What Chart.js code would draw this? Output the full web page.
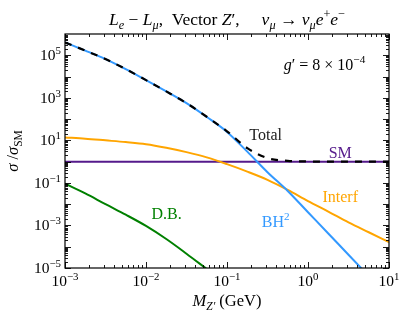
<!DOCTYPE html>
<html>
<head>
<meta charset="utf-8">
<script src="https://cdn.jsdelivr.net/npm/chart.js@4/dist/chart.umd.min.js"></script>
<style>
  html, body { margin: 0; padding: 0; background: #fff; }
  #wrap { width: 406px; height: 316px; }
</style>
</head>
<body>
<div id="wrap"><canvas id="myChart" width="406" height="316"></canvas></div>
<script>
// Z' mass in GeV (quarter-decade steps from 1e-3 to 10)
const massGeV = [
  1e-3, 1.78e-3, 3.16e-3, 5.62e-3, 1e-2, 1.78e-2, 3.16e-2, 5.62e-2, 1e-1,
  1.78e-1, 3.16e-1, 5.62e-1, 1, 1.78, 3.16, 5.62, 10,
];

// sigma / sigma_SM
const totalRatio = [
  4.0e5, 1.66e5, 6.6e4, 2.24e4, 6.8e3, 2.0e3, 5.6e2, 1.29e2, 26.8,
  4.3, 1.46, 1.09, 1.02, 1.0, 1.0, 1.0, 1.0,
];
const bhSquared = [
  4.0e5, 1.66e5, 6.6e4, 2.24e4, 6.8e3, 2.0e3, 5.6e2, 1.26e2, 25,
  2.95, 0.32, 4.2e-2, 4.2e-3, 4.2e-4, 4.2e-5, 4.2e-6, 4.2e-7,
];
const interf = [
  13.8, 12.0, 10.0, 8.3, 6.6, 4.5, 2.8, 1.58, 0.76,
  0.34, 0.14, 0.047, 0.014, 4.5e-3, 1.4e-3, 4.8e-4, 1.66e-4,
];
const smRatio = [1, 1, 1, 1, 1, 1, 1, 1, 1, 1, 1, 1, 1, 1, 1, 1, 1];
const dbRatio = [
  0.093, 0.032, 0.01, 3.2e-3, 9.5e-4, 2.3e-4, 4.7e-5, 9e-6, null,
  null, null, null, null, null, null, null, null,
];

const xExps = [-3, -2, -1, 0, 1];
const yExps = [-5, -4, -3, -2, -1, 0, 1, 2, 3, 4, 5];
const yLabelExps = [-5, -3, -1, 1, 3, 5];

const serif = '"Liberation Serif", "DejaVu Serif", serif';

function pts(arr) {
  return massGeV.map((m, i) => ({ x: m, y: arr[i] }));
}

// draw text made of pieces with italic / sub / superscript
function richWidth(ctx, segs, size) {
  let w = 0;
  segs.forEach((s) => {
    const fs = s.sub || s.sup ? size * 0.7 : size;
    ctx.font = (s.it ? "italic " : "") + fs + "px " + serif;
    w += ctx.measureText(s.t).width;
  });
  return w;
}
function drawRich(ctx, segs, x, y, size, align, color) {
  const w = richWidth(ctx, segs, size);
  let cx = align === "center" ? x - w / 2 : align === "right" ? x - w : x;
  ctx.fillStyle = color || "#000";
  ctx.textBaseline = "alphabetic";
  ctx.textAlign = "left";
  segs.forEach((s) => {
    const fs = s.sub || s.sup ? size * 0.7 : size;
    ctx.font = (s.it ? "italic " : "") + fs + "px " + serif;
    let dy = 0;
    if (s.sub) dy = size * 0.22;
    if (s.sup) dy = -size * 0.4;
    ctx.fillText(s.t, cx, y + dy);
    cx += ctx.measureText(s.t).width;
  });
}

const notes = [
  { x: 1.6, y: 3.6e4, color: "#000", segs: [
    { t: "g", it: true }, { t: "′ = 8 × 10" }, { t: "−4", sup: true }] },
  { x: 0.30, y: 18, color: "#222", segs: [{ t: "Total" }] },
  { x: 2.5, y: 2.6, color: "#551a8b", segs: [{ t: "SM" }] },
  { x: 2.5, y: 0.022, color: "#ffa500", segs: [{ t: "Interf" }] },
  { x: 0.40, y: 1.5e-3, color: "#3399ff", segs: [{ t: "BH" }, { t: "2", sup: true }] },
  { x: 0.018, y: 3.3e-3, color: "#008000", segs: [{ t: "D.B." }] },
];

const framePlugin = {
  id: "frame",
  afterDatasetsDraw(chart) {
    const { ctx, chartArea: a, scales } = chart;
    const xs = scales.x, ys = scales.y;
    ctx.save();

    // annotations
    notes.forEach((n) => {
      const px = xs.getPixelForValue(n.x);
      const py = ys.getPixelForValue(n.y);
      drawRich(ctx, n.segs, px, py + 5, 16, "center", n.color);
    });

    // frame
    ctx.strokeStyle = "#000";
    ctx.lineWidth = 1.2;
    ctx.strokeRect(a.left, a.top, a.right - a.left, a.bottom - a.top);

    // ticks, inward on all sides
    ctx.lineWidth = 0.9;
    ctx.beginPath();
    const tickX = (v, len) => {
      const p = Math.round(xs.getPixelForValue(v)) + 0.5;
      ctx.moveTo(p, a.bottom); ctx.lineTo(p, a.bottom - len);
      ctx.moveTo(p, a.top); ctx.lineTo(p, a.top + len);
    };
    const tickY = (v, len) => {
      const p = Math.round(ys.getPixelForValue(v)) + 0.5;
      ctx.moveTo(a.left, p); ctx.lineTo(a.left + len, p);
      ctx.moveTo(a.right, p); ctx.lineTo(a.right - len, p);
    };
    xExps.forEach((e) => {
      tickX(Math.pow(10, e), 6);
      if (e < 1) for (let k = 2; k < 10; k++) tickX(k * Math.pow(10, e), 3);
    });
    yExps.forEach((e) => {
      tickY(Math.pow(10, e), 6);
      for (let k = 2; k < 10; k++) tickY(k * Math.pow(10, e), 3);
    });
    ctx.stroke();

    // tick labels
    xExps.forEach((e) => {
      const p = xs.getPixelForValue(Math.pow(10, e));
      const s = e < 0 ? "−" + -e : String(e);
      drawRich(ctx, [{ t: "10" }, { t: s, sup: true }], p, a.bottom + 18, 15.5, "center");
    });
    yLabelExps.forEach((e) => {
      const p = ys.getPixelForValue(Math.pow(10, e));
      const s = e < 0 ? "−" + -e : String(e);
      drawRich(ctx, [{ t: "10" }, { t: s, sup: true }], a.left - 4, p + 5, 15.5, "right");
    });

    // axis titles
    const mid = (a.left + a.right) / 2;
    drawRich(ctx, [{ t: "M", it: true }, { t: "Z′", it: true, sub: true }, { t: " (GeV)" }],
      mid, a.bottom + 38, 16.5, "center");
    ctx.save();
    ctx.translate(18, (a.top + a.bottom) / 2);
    ctx.rotate(-Math.PI / 2);
    drawRich(ctx, [{ t: "σ", it: true }, { t: " /" }, { t: "σ", it: true }, { t: "SM", sub: true }],
      0, 0, 16.5, "center");
    ctx.restore();

    // title
    drawRich(ctx, [
      { t: "L", it: true }, { t: "e", it: true, sub: true }, { t: " − " },
      { t: "L", it: true }, { t: "μ", it: true, sub: true },
      { t: ",  Vector " }, { t: "Z", it: true }, { t: "′,     " },
      { t: "ν", it: true }, { t: "μ", it: true, sub: true }, { t: " → " },
      { t: "ν", it: true }, { t: "μ", it: true, sub: true },
      { t: "e", it: true }, { t: "+", sup: true }, { t: "e", it: true }, { t: "−", sup: true },
    ], mid, 25, 17.5, "center");

    ctx.restore();
  },
};

const lineStyle = {
  borderWidth: 2, pointRadius: 0, fill: false,
  cubicInterpolationMode: "monotone", spanGaps: false,
};

const config = {
  type: "line",
  data: {
    // first dataset is drawn on top
    datasets: [
      { label: "Total", data: pts(totalRatio), borderColor: "#000", borderDash: [7, 7], ...lineStyle, borderWidth: 2.2 },
      { label: "BH2", data: pts(bhSquared), borderColor: "#3399ff", ...lineStyle },
      { label: "Interf", data: pts(interf), borderColor: "#ffa500", ...lineStyle },
      { label: "D.B.", data: pts(dbRatio), borderColor: "#008000", ...lineStyle },
      { label: "SM", data: pts(smRatio), borderColor: "#551a8b", ...lineStyle },
    ],
  },
  options: {
    responsive: false,
    animation: false,
    layout: { padding: { left: 65, right: 17, top: 34, bottom: 48 } },
    plugins: { legend: { display: false }, tooltip: { enabled: false } },
    scales: {
      x: { type: "logarithmic", min: 1e-3, max: 10, display: false },
      y: { type: "logarithmic", min: 1e-5, max: 1e6, display: false },
    },
  },
  plugins: [framePlugin],
};

const myChart = new Chart(document.getElementById("myChart").getContext("2d"), config);
</script>
</body>
</html>
